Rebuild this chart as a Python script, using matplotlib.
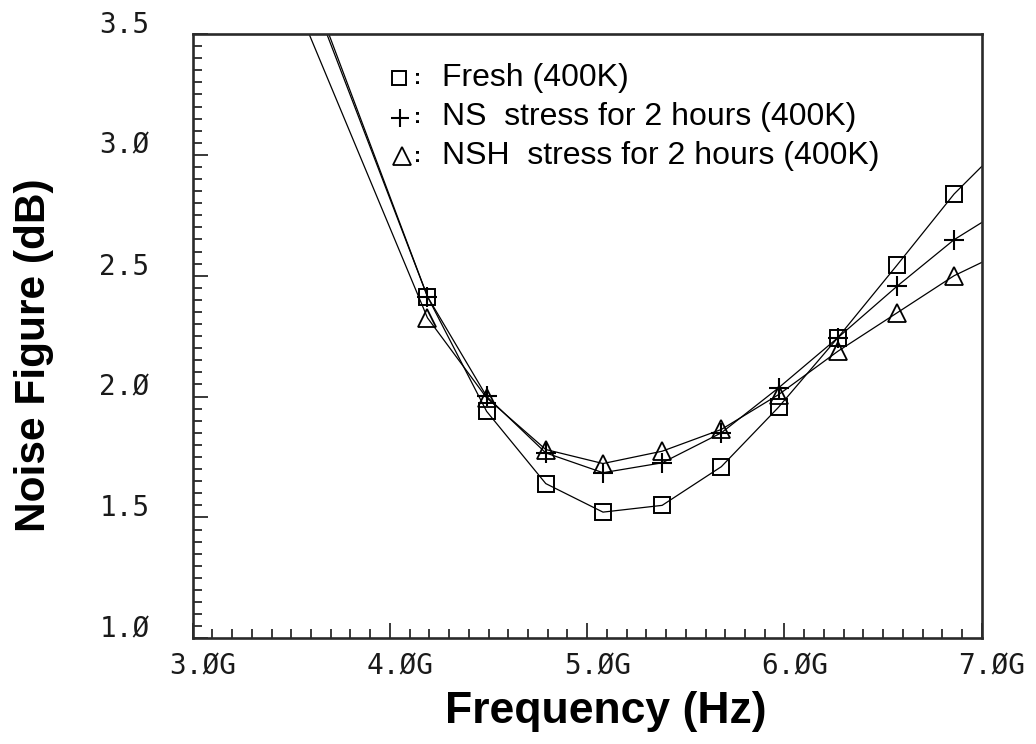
import matplotlib
matplotlib.use("Agg")
import matplotlib.pyplot as plt
import matplotlib.transforms as mtransforms
from matplotlib.lines import Line2D
from matplotlib.ticker import MultipleLocator

# Measured noise figure (dB) at the marked frequency points (GHz)
freq_ghz = [4.19, 4.49, 4.79, 5.08, 5.38, 5.68, 5.97, 6.27, 6.57, 6.86]
nf_fresh = [2.414, 1.939, 1.640, 1.522, 1.550, 1.710, 1.956, 2.243, 2.543, 2.838]
nf_ns = [2.414, 2.001, 1.767, 1.685, 1.726, 1.850, 2.036, 2.243, 2.456, 2.649]
nf_nsh = [2.326, 1.995, 1.781, 1.723, 1.774, 1.864, 2.008, 2.187, 2.346, 2.500]

series_labels = ["Fresh (400K)",
                 "NS  stress for 2 hours (400K)",
                 "NSH  stress for 2 hours (400K)"]
# frequency where each trace leaves the 3.5 dB ceiling, and its value at 7 GHz
top_exit_ghz = [3.69, 3.68, 3.59]
nf_at_7g = [2.952, 2.720, 2.555]

x_major = [3.0, 4.0, 5.0, 6.0, 7.0]
y_major = [1.0, 1.5, 2.0, 2.5, 3.0, 3.5]

W, H, DPI = 1036, 744, 100
fig = plt.figure(figsize=(W / DPI, H / DPI), dpi=DPI)
ax = fig.add_axes([192.7 / W, 1 - 638.3 / H, (981.7 - 192.7) / W, (638.3 - 34) / H])

marker_styles = [dict(marker="s", ms=11.5, mew=1.4),
                 dict(marker="+", ms=15, mew=1.5),
                 dict(marker="^", ms=13, mew=1.3)]

for vals, top_x, end_v, mst in zip([nf_fresh, nf_ns, nf_nsh], top_exit_ghz, nf_at_7g, marker_styles):
    xs = [top_x] + freq_ghz + [7.0]
    ys = [3.5] + vals + [end_v]
    ax.plot(xs, ys, color="black", lw=0.9, mfc="none", mec="black",
            markevery=list(range(1, len(vals) + 1)), **mst)

ax.set_xlim(3.0, 7.0)
ax.set_ylim(1.0, 3.5)

for side in ["left", "right", "top", "bottom"]:
    ax.spines[side].set_linewidth(1.9)
    ax.spines[side].set_color("#2a2a2a")

ax.xaxis.set_major_locator(MultipleLocator(1.0))
ax.xaxis.set_minor_locator(MultipleLocator(0.1))
ax.yaxis.set_major_locator(MultipleLocator(0.5))
ax.yaxis.set_minor_locator(MultipleLocator(0.05))
ax.tick_params(which="both", direction="in", top=False, right=False,
               labelbottom=False, labelleft=False, color="#2a2a2a", width=1.3)
ax.tick_params(which="major", length=11)
ax.tick_params(which="minor", length=6.5)

tick_font = dict(family="DejaVu Sans Mono", size=20, color="#1a1a1a")
xt = mtransforms.offset_copy(ax.get_xaxis_transform(), fig=fig, x=10, y=-14, units="dots")
for v in x_major:
    ax.text(v, 0, f"{v:.1f}".replace("0", "\u00d8") + "G", transform=xt,
            ha="center", va="top", **tick_font)
yt = mtransforms.offset_copy(ax.get_yaxis_transform(), fig=fig, x=-43, y=1, units="dots")
for v in y_major:
    ax.text(0, v, f"{v:.1f}".replace("0", "\u00d8"), transform=yt,
            ha="right", va="baseline", **tick_font)

fig.text(34 / W, 1 - 355 / H, "Noise Figure (dB)", rotation=90, ha="center", va="center",
         family="Liberation Sans", weight="bold", size=30.5)
fig.text(606 / W, 1 - 712 / H, "Frequency (Hz)", ha="center", va="center",
         family="Liberation Sans", weight="bold", size=32)

# key in the upper part of the frame
legend_rows_y = [78, 117.5, 156]
legend_marker_x = [398.5, 400, 402]
legend_markers = [dict(marker="s", ms=10, mew=1.4),
                  dict(marker="+", ms=12.5, mew=1.5),
                  dict(marker="^", ms=12.5, mew=1.3)]
for row_y, mx, lm, label in zip(legend_rows_y, legend_marker_x, legend_markers, series_labels):
    fig.add_artist(Line2D([mx / W], [1 - row_y / H], transform=fig.transFigure,
                          color="black", mfc="none", mec="black", ls="none", **lm))
    fig.text(418 / W, 1 - row_y / H, ":", ha="center", va="center",
             family="Liberation Sans", weight="bold", size=15)
    fig.text(442 / W, 1 - row_y / H, label, ha="left", va="center",
             family="Liberation Sans", size=23)

fig.savefig("out.png", dpi=DPI)
